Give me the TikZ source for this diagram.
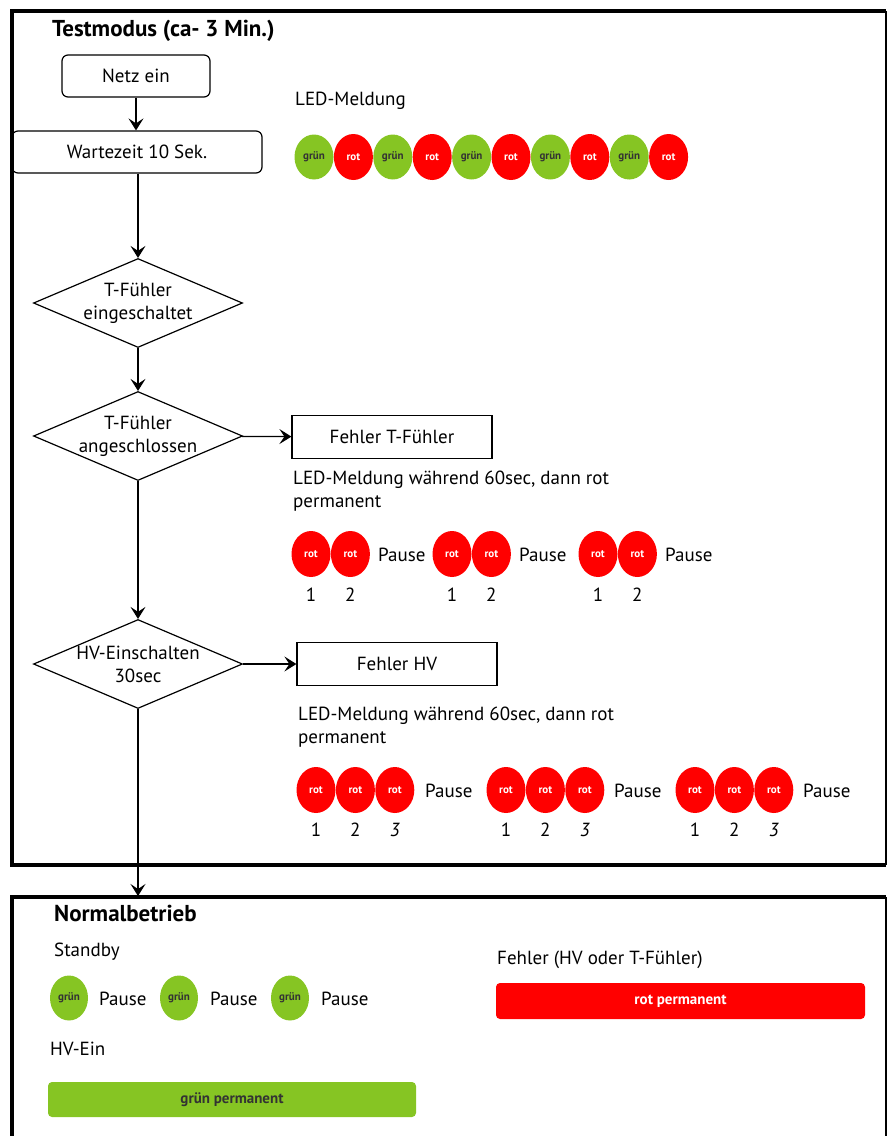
\documentclass[tikz,border=0pt]{standalone}
\usepackage{fontspec}
\setmainfont{PT Sans}
\usepackage{tikz}
\usetikzlibrary{shapes.geometric, arrows.meta, positioning}
\definecolor{ledgreen}{RGB}{134,197,35}
\definecolor{ledred}{RGB}{255,0,0}

\begin{document}
\begin{tikzpicture}[
                x=1pt, y=1pt,
                font=\fontsize{19}{23}\selectfont,
                node distance=0pt and 0pt,
                startbox/.style={rectangle, draw, rounded corners=6pt, line width=1.2pt, minimum width=148pt, minimum height=42pt},
                errbox/.style={rectangle, draw, line width=1.2pt, minimum width=200pt, minimum height=43pt},
                decision/.style={diamond, draw, line width=1.2pt, aspect=2.35, inner sep=-6pt, minimum width=209pt, minimum height=89pt, align=center},
                txt/.style={anchor=west, inner sep=0pt, align=left},
                num/.style={inner sep=0pt},
                led/.style={ellipse, inner sep=0pt, minimum width=39pt, minimum height=45pt, font=\fontsize{11}{12}\selectfont\bfseries},
                ledg/.style={led, fill=ledgreen, text=black!80},
                ledr/.style={led, fill=ledred, text=white, minimum height=46pt},
                bar/.style={rectangle, rounded corners=4pt, minimum height=35pt, font=\fontsize{15}{17}\selectfont\bfseries},
                frame/.style={line width=4pt},
                arrow/.style={line width=1.2pt, -{Stealth[length=12pt, width=15pt, inset=5pt]}}
            ]
            \useasboundingbox (0,0) rectangle (888,-1136);

            % Testmodus
            \draw [frame] (886,-11) -- (12,-11) -- (12,-865) -- (886,-865);
            \draw [line width=1.5pt] (886,-11) -- (886,-865);
            \node (titel) [txt, font=\fontsize{23}{27}\selectfont\bfseries] at (52,-31) {Testmodus (ca- 3 Min.)};

            \node (netz) [startbox] at (136,-76) {Netz ein};
            \node (warte) [startbox, minimum width=250pt] at (137,-152) {Wartezeit 10 Sek.};
            \node (tein) [decision] at (138,-303) {T-Fühler\\eingeschaltet};
            \node (tan) [decision] at (138,-436) {T-Fühler\\angeschlossen};
            \node (hv) [decision] at (138,-664) {HV-Einschalten\\30sec};
            \node (ftf) [errbox] at (392,-437) {Fehler T-Fühler};
            \node (fhv) [errbox] at (397,-664) {Fehler HV};
            \coordinate (normtop) at (138,-896);

            \draw [arrow] (netz) -- (netz |- warte.north);
            \draw [arrow] (warte.south -| tein.north) -- (tein.north);
            \draw [arrow] (tein) -- (tan);
            \draw [arrow] (tan) -- (hv);
            \draw [arrow] (tan) -- (ftf);
            \draw [arrow] (hv) -- (fhv);
            \draw [arrow] (hv) -- (normtop);

            % LED-Meldung Testmodus
            \node (meld) [txt] at (295,-101) {LED-Meldung};
            \node (g1) [ledg] at (314,-157) {grün};
            \node (r1) [ledr, right=0pt of g1] {rot};
            \node (g2) [ledg, right=0pt of r1] {grün};
            \node (r2) [ledr, right=0pt of g2] {rot};
            \node (g3) [ledg, right=0pt of r2] {grün};
            \node (r3) [ledr, right=0pt of g3] {rot};
            \node (g4) [ledg, right=0pt of r3] {grün};
            \node (r4) [ledr, right=0pt of g4] {rot};
            \node (g5) [ledg, right=0pt of r4] {grün};
            \node (r5) [ledr, right=0pt of g5] {rot};

            % Fehler T-Fuehler
            \node (meldtf) [txt] at (293,-491) {LED-Meldung während 60sec, dann rot\\permanent};
            \node (ta1) [ledr] at (311,-554) {rot};
            \node (ta2) [ledr, right=0pt of ta1] {rot};
            \node (pa1) [txt] at (378,-555) {Pause};
            \node (tb1) [ledr] at (452,-554) {rot};
            \node (tb2) [ledr, right=0pt of tb1] {rot};
            \node (pa2) [txt] at (519,-555) {Pause};
            \node (tc1) [ledr] at (598,-554) {rot};
            \node (tc2) [ledr, right=0pt of tc1] {rot};
            \node (pa3) [txt] at (665,-555) {Pause};
            \node [num, below=11pt of ta1] {1};
            \node [num, below=11pt of ta2] {2};
            \node [num, below=11pt of tb1] {1};
            \node [num, below=11pt of tb2] {2};
            \node [num, below=11pt of tc1] {1};
            \node [num, below=11pt of tc2] {2};

            % Fehler HV
            \node (meldhv) [txt] at (298,-727) {LED-Meldung während 60sec, dann rot\\permanent};
            \node (ha1) [ledr] at (316,-790) {rot};
            \node (ha2) [ledr, right=0pt of ha1] {rot};
            \node (ha3) [ledr, right=0pt of ha2] {rot};
            \node (pb1) [txt] at (425,-791) {Pause};
            \node (hb1) [ledr] at (506,-790) {rot};
            \node (hb2) [ledr, right=0pt of hb1] {rot};
            \node (hb3) [ledr, right=0pt of hb2] {rot};
            \node (pb2) [txt] at (614,-791) {Pause};
            \node (hc1) [ledr] at (695,-790) {rot};
            \node (hc2) [ledr, right=0pt of hc1] {rot};
            \node (hc3) [ledr, right=0pt of hc2] {rot};
            \node (pb3) [txt] at (803,-791) {Pause};
            \node [num, below=10pt of ha1] {1};
            \node [num, below=10pt of ha2] {2};
            \node [num, below=10pt of ha3] {\itshape 3};
            \node [num, below=10pt of hb1] {1};
            \node [num, below=10pt of hb2] {2};
            \node [num, below=10pt of hb3] {\itshape 3};
            \node [num, below=10pt of hc1] {1};
            \node [num, below=10pt of hc2] {2};
            \node [num, below=10pt of hc3] {\itshape 3};

            % Normalbetrieb
            \draw [frame] (12,-1140) -- (12,-897) -- (886,-897);
            \draw [line width=1.5pt] (886,-897) -- (886,-1140);
            \node (normal) [txt, font=\fontsize{23}{27}\selectfont\bfseries] at (54,-913) {Normalbetrieb};
            \node (stby) [txt] at (54,-952) {Standby};
            \node (s1) [ledg, minimum width=38pt] at (69,-998) {grün};
            \node (ps1) [txt] at (99,-999) {Pause};
            \node (s2) [ledg, minimum width=38pt] at (179,-998) {grün};
            \node (ps2) [txt] at (210,-999) {Pause};
            \node (s3) [ledg, minimum width=38pt] at (290,-998) {grün};
            \node (ps3) [txt] at (321,-999) {Pause};
            \node (hvein) [txt] at (50,-1049) {HV-Ein};
            \node (gbar) [bar, fill=ledgreen, text=black!80, minimum width=368pt] at (232,-1099.5) {grün permanent};
            \node (fehl) [txt] at (497,-960) {Fehler (HV oder T-Fühler)};
            \node (rbar) [bar, fill=ledred, text=white, minimum width=369pt, minimum height=36pt] at (680.5,-1001) {rot permanent};
\end{tikzpicture}
\end{document}
